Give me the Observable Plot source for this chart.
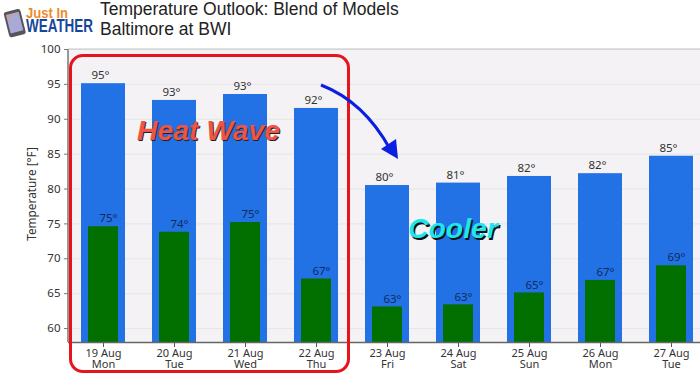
<!DOCTYPE html>
<html><head><meta charset="utf-8">
<script src="https://cdn.jsdelivr.net/npm/d3@7"></script>
<script src="https://cdn.jsdelivr.net/npm/@observablehq/plot@0.6"></script>
<style>
html,body{margin:0;padding:0;background:#fff;overflow:hidden}
#wrap{position:relative;width:700px;height:375px;overflow:hidden}
#chart{position:absolute;left:0;top:0}
.title{position:absolute;left:100px;font:17.5px "Liberation Sans",sans-serif;color:#222;white-space:nowrap;line-height:20px}
.box{position:absolute;left:69px;top:54px;width:275px;height:313px;border:3px solid #e8141c;border-radius:14px}
.note{position:absolute;font:italic bold 28.4px "Liberation Sans",sans-serif;white-space:nowrap}
svg.over{position:absolute;left:0;top:0;pointer-events:none}
</style></head><body>
<div id="wrap">
<div id="chart"></div>
<svg class="over" width="700" height="375">
<g transform="rotate(-14 15 22)"><rect x="6" y="10" width="17" height="26" rx="2.5" fill="#55555e"/><rect x="8" y="13" width="13" height="19" fill="#a9a9d8"/><path d="M9.5 22a6 7 0 0 1 10-6l0 -2l-10 0z" fill="#ee9a55"/></g>
<text x="26" y="18" font-family="Liberation Sans" font-weight="bold" font-size="15" fill="#ee8a2a" textLength="42" lengthAdjust="spacingAndGlyphs">Just In</text>
<text x="26" y="32" font-family="Liberation Sans" font-weight="bold" font-size="18" fill="#16479c" textLength="67" lengthAdjust="spacingAndGlyphs">WEATHER</text>
</svg>
<div class="title" style="top:-1px">Temperature Outlook: Blend of Models</div>
<div class="title" style="top:19px">Baltimore at BWI</div>
<div class="box"></div>
<svg class="over" width="700" height="375">
<path d="M321 85C352 97 374 120 390 149" fill="none" stroke="#0a1fe0" stroke-width="3"/>
<path d="M398 159L381 149L396 139Z" fill="#0a1fe0"/>
</svg>
<div class="note" style="left:137px;top:114px;color:#ee5544;text-shadow:1px 1px 0 #222">Heat Wave</div>
<div class="note" style="left:408px;top:212px;color:#1fe6ee;text-shadow:1.5px 1.5px 0 #111">Cooler</div>
</div>
<script>
const days = ["19 Aug\nMon","20 Aug\nTue","21 Aug\nWed","22 Aug\nThu","23 Aug\nFri","24 Aug\nSat","25 Aug\nSun","26 Aug\nMon","27 Aug\nTue"];
const highs = [95.1,92.7,93.55,91.55,80.5,80.85,81.8,82.2,84.7];
const lows = [74.6,73.8,75.2,67.1,63.1,63.4,65.1,66.9,69.0];
const highLabels = ["95°","93°","93°","92°","80°","81°","82°","82°","85°"];
const lowLabels = ["75°","74°","75°","67°","63°","63°","65°","67°","69°"];
const yTicks = [60,65,70,75,80,85,90,95,100];
const rows = days.map((day,i)=>({day,high:highs[i],low:lows[i],hl:highLabels[i],ll:lowLabels[i]}));
const font = "'Noto Sans',sans-serif";
const plot = Plot.plot({
  width:700,height:375,marginLeft:68,marginRight:0,marginTop:49,marginBottom:33,
  style:{background:"transparent",fontFamily:font,fontSize:"11.5px",color:"#333"},
  x:{domain:days,range:[67.5,706.5],paddingInner:0.38,paddingOuter:0.19,align:0.5,label:null},
  y:{domain:[58,100],label:null},
  marks:[
    Plot.frame({fill:"#f4f2f4",stroke:null}),
    Plot.gridY(yTicks,{stroke:"#e6e6e6",strokeOpacity:1,strokeWidth:1}),
    Plot.barY(rows,{x:"day",y1:58,y2:"high",fill:"#2272e6"}),
    Plot.barY(rows,{x:"day",y1:58,y2:"low",fill:"#017001",insetLeft:7,insetRight:7}),
    Plot.text(rows,{x:"day",y:"high",text:"hl",dy:-8,dx:-3,fill:"#333",fontSize:11.5}),
    Plot.text(rows,{x:"day",y:"low",text:"ll",dy:-8,dx:5,fill:"#102a5c",fontSize:11.5}),
    Plot.axisY({ticks:yTicks,tickSize:4,tickPadding:4,label:null,fontSize:11.5,fill:"#333",stroke:"#777"}),
    Plot.axisX({tickSize:5,tickPadding:2,label:null,fontSize:11,fill:"#333",stroke:"#555",lineHeight:1}),
    Plot.ruleY([58],{stroke:"#666",strokeWidth:1.5})
  ]
});
document.getElementById("chart").append(plot);
const svg=d3.select(plot);
svg.append("line").attr("x1",68).attr("x2",68).attr("y1",49).attr("y2",342).attr("stroke","#777").attr("stroke-width",1.5);
svg.append("line").attr("x1",68).attr("x2",700).attr("y1",49).attr("y2",49).attr("stroke","#c4c4c4");
svg.append("text").text("Temperature [°F]").attr("transform","translate(36,194) rotate(-90)").attr("text-anchor","middle").attr("font-size",11.8).attr("fill","#333");
</script>
</body></html>
